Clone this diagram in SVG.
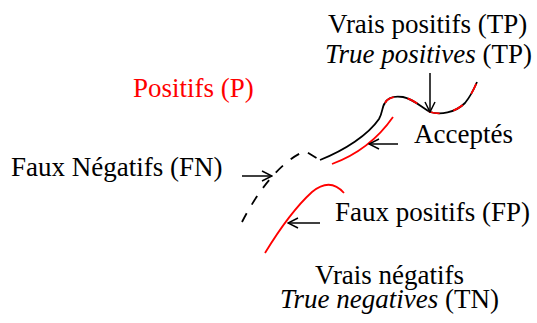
<svg xmlns="http://www.w3.org/2000/svg" width="537" height="323" viewBox="0 0 537 323">
<style>
text{font-family:'Liberation Serif','Tinos','Times New Roman','DejaVu Serif',serif;font-size:27px;fill:#000}
.red{fill:#ff0000}
.it{font-style:italic}
.blk{fill:none;stroke:#000;stroke-width:1.8;stroke-linecap:butt}
.rc{fill:none;stroke:#ff0000;stroke-width:1.8}
.arr{fill:none;stroke:#000;stroke-width:1.5;marker-end:url(#ah)}
</style>
<defs>
<marker id="ah" viewBox="0 0 12 12" refX="11" refY="6" markerWidth="12" markerHeight="12" markerUnits="userSpaceOnUse" orient="auto">
<polyline points="1,1 11,6 1,11" fill="none" stroke="#000" stroke-width="1.5"/>
</marker>
</defs>
<g id="curves">
<path class="blk" d="M242,222 C257,193 279,162 305,151 L320,160" stroke-dasharray="10 10"/>
<path class="blk" d="M320,160 C345,150 368,135 379,119 C383,112 382,106 385,103"/>
<path class="blk" d="M385,103 C388,97 396,96 403,97 C413,99 420,106 430,112 C440,115 455,113 465,103 C470,97 474,89 477,82"/>
<path class="rc" d="M385,103 C388,97 396,96 403,97 C413,99 420,106 430,112 C440,115 455,113 465,103 C470,97 474,89 477,82" stroke-dasharray="11 14"/>
<path class="rc" d="M332,164 Q370,150 393,117"/>
<path class="rc" d="M265,253 Q290,212 312,192 Q330,177 344,193"/>
</g>
<g id="connectors">
<line class="arr" x1="430" y1="73" x2="430" y2="112"/>
<line class="arr" x1="242" y1="176" x2="272" y2="176"/>
<line class="arr" x1="398" y1="144" x2="369" y2="144"/>
<line class="arr" x1="320" y1="223" x2="288" y2="223"/>
</g>
<g id="tp"><text x="328" y="33">Vrais positifs (TP)</text><text x="325" y="63"><tspan class="it">True positives</tspan> (TP)</text></g>
<g id="p"><text class="red" x="133" y="97">Positifs (P)</text></g>
<g id="acc"><text x="414" y="143">Acceptés</text></g>
<g id="fn"><text x="11" y="176">Faux Négatifs (FN)</text></g>
<g id="fp"><text x="335" y="221">Faux positifs (FP)</text></g>
<g id="tn"><text x="315" y="284">Vrais négatifs</text><text x="280" y="308"><tspan class="it">True negatives</tspan> (TN)</text></g>
</svg>
